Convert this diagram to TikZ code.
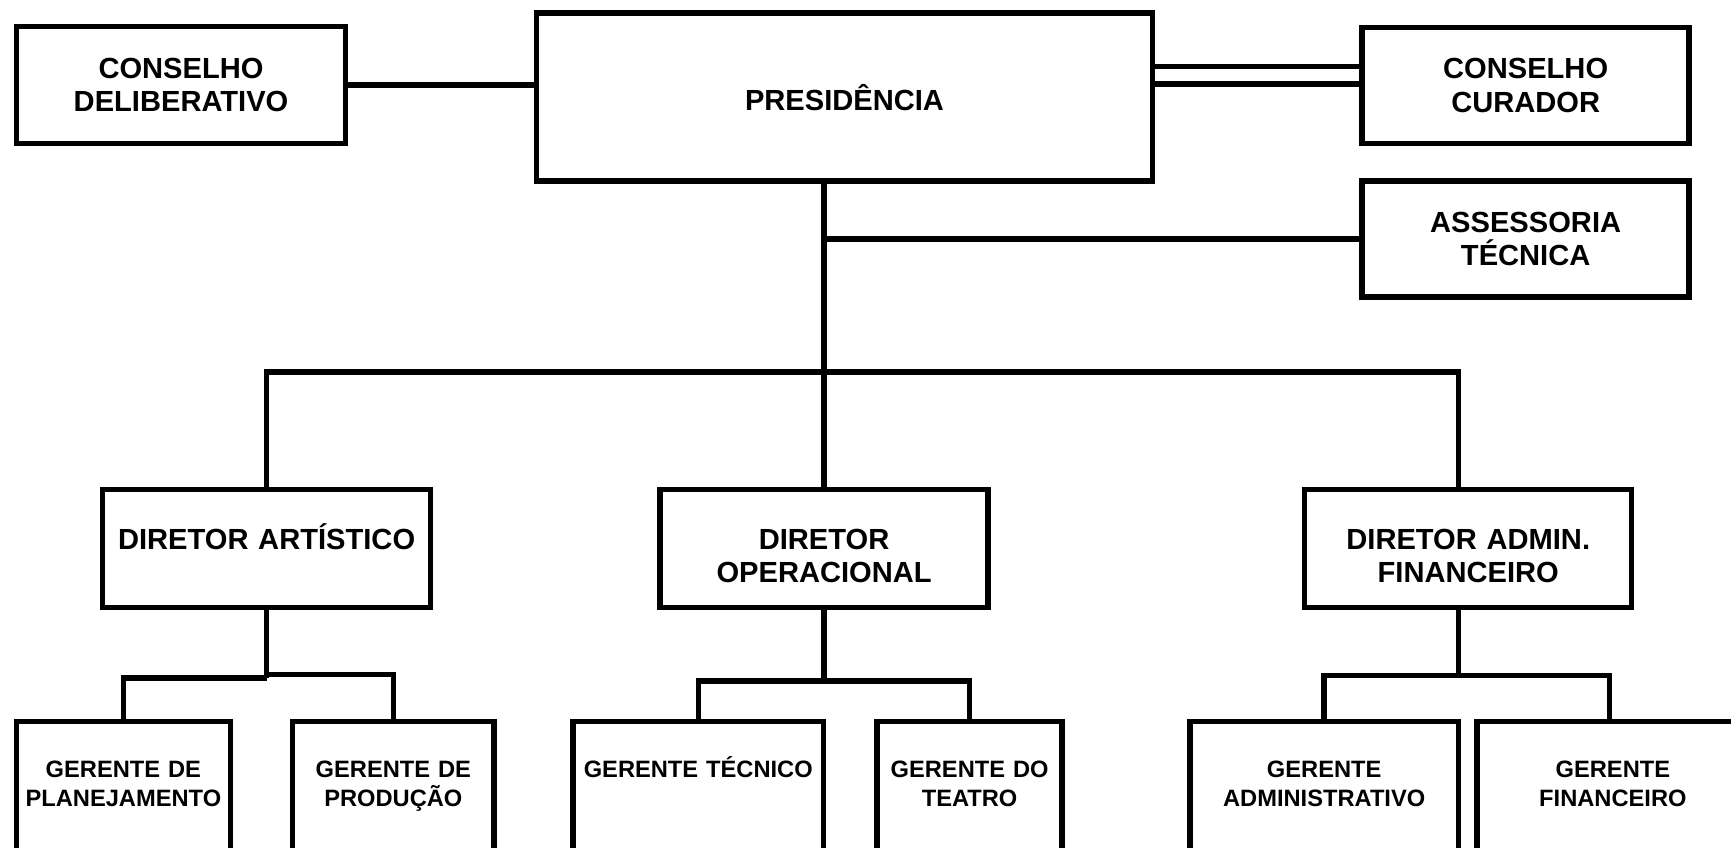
\documentclass[tikz,border=0pt]{standalone}
\usepackage{fontspec}
\setmainfont{Liberation Sans}
\usepackage{tikz}
\usetikzlibrary{positioning}

\begin{document}
\begin{tikzpicture}[x=0.01cm, y=-0.01cm, line width=1.4pt,
    orgbox/.style={draw, rectangle, align=center, inner sep=0pt, font=\bfseries\fontsize{7.5}{8.6}\selectfont},
    dirbox/.style={orgbox, anchor=north, text height=0.54cm, text depth=0.53cm},
    gerbox/.style={dirbox, text height=0.51cm, text depth=1.3cm, font=\bfseries\fontsize{6.1}{7.4}\selectfont}]
    \useasboundingbox (0,0) rectangle (1568,768);
    \clip (0,0) rectangle (1568,768);
    \node [orgbox, minimum width=2.98cm, minimum height=1.06cm] (delib) at (164,77) {CONSELHO\\DELIBERATIVO};
    \node [orgbox, minimum width=5.58cm, minimum height=1.52cm] (pres) at (765,88) {PRESIDÊNCIA};
    \node [orgbox, minimum width=2.96cm, minimum height=1.05cm] (curador) at (1382,77.5) {CONSELHO\\CURADOR};
    \node [orgbox, minimum width=2.96cm, minimum height=1.05cm] (assess) at (1382,216.5) {ASSESSORIA\\TÉCNICA};
    \node [dirbox, text width=2.97cm] (dartist) at (241.5,441) {DIRETOR ARTÍSTICO};
    \node [dirbox, text width=2.97cm] (doper) at (746.5,441) {DIRETOR\\OPERACIONAL};
    \node [dirbox, text width=2.96cm] (dadmin) at (1330,441) {DIRETOR ADMIN.\\FINANCEIRO};
    \node [gerbox, text width=1.935cm] (gplan) at (111.75,651) {GERENTE DE\\PLANEJAMENTO};
    \node [gerbox, text width=1.826cm] (gprod) at (356.3,651) {GERENTE DE\\PRODUÇÃO};
    \node [gerbox, text width=2.27cm] (gtec) at (632.5,651) {GERENTE TÉCNICO};
    \node [gerbox, text width=1.674cm] (gteatro) at (878.3,651) {GERENTE DO\\TEATRO};
    \node [gerbox, text width=2.43cm] (gadm) at (1199.5,651) {GERENTE\\ADMINISTRATIVO};
    \node [gerbox, text width=2.46cm] (gfin) at (1461,651) {GERENTE\\FINANCEIRO};
    \coordinate (bus) at (746.5,337);
    \coordinate (admtap) at (1321,337);
    \coordinate (fintap) at (1458,612);
    \draw (delib.east) -- (delib.east -| pres.west);
    \draw (pres.east |- 0,60) -- (curador.west |- 0,60);
    \draw (pres.east |- 0,76) -- (curador.west |- 0,76);
    \draw (pres.south -| doper.north) -- (doper.north);
    \draw (doper.north |- assess.west) -- (assess.west);
    \draw (dartist.north) |- (bus) -| (admtap |- dadmin.north);
    \draw (dartist.south) -- (dartist.south |- 0,614);
    \draw (gplan.north) |- (dartist.south |- 0,614);
    \draw (gprod.north) |- (dartist.south |- 0,611);
    \draw (doper.south) -- (doper.south |- 0,617);
    \draw (gtec.north) |- (gteatro.north |- 0,617) -- (gteatro.north);
    \draw (admtap |- dadmin.south) -- (admtap |- fintap);
    \draw (gadm.north) |- (fintap) -- (fintap |- gfin.north);
\end{tikzpicture}
\end{document}
